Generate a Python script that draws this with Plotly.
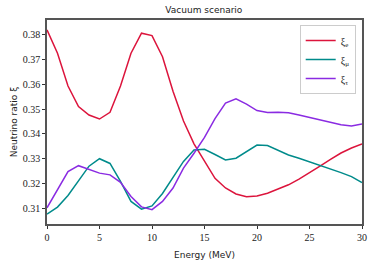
import plotly.graph_objects as go

energy = list(range(0, 31))
xi_e = [0.3819, 0.3725, 0.3593, 0.3510, 0.3476, 0.3460, 0.3487, 0.3593, 0.3725, 0.3806,
        0.3796, 0.3711, 0.3572, 0.3452, 0.3360, 0.3288, 0.3221, 0.3182, 0.3158, 0.3147,
        0.3150, 0.3161, 0.3178, 0.3195, 0.3218, 0.3243, 0.3270, 0.3297, 0.3323, 0.3343, 0.3360]
xi_mu = [0.3077, 0.3105, 0.3152, 0.3212, 0.3270, 0.3300, 0.3281, 0.3209, 0.3128, 0.3097,
         0.3110, 0.3160, 0.3222, 0.3289, 0.3335, 0.3338, 0.3317, 0.3295, 0.3302, 0.3329,
         0.3355, 0.3353, 0.3334, 0.3315, 0.3302, 0.3288, 0.3272, 0.3258, 0.3244, 0.3228, 0.3204]
xi_tau = [0.3102, 0.3176, 0.3248, 0.3272, 0.3258, 0.3242, 0.3235, 0.3205, 0.3148, 0.3106,
          0.3095, 0.3128, 0.3182, 0.3262, 0.3322, 0.3386, 0.3462, 0.3524, 0.3541, 0.3520,
          0.3494, 0.3486, 0.3487, 0.3485, 0.3476, 0.3467, 0.3456, 0.3446, 0.3437, 0.3432, 0.3440]
names = ["ξ<sub>e</sub>", "ξ<sub>μ</sub>", "ξ<sub>τ</sub>"]
colors = ["#DC143C", "#008B8B", "#8A2BE2"]
x_ticks = [0, 5, 10, 15, 20, 25, 30]
y_ticks = [0.31, 0.32, 0.33, 0.34, 0.35, 0.36, 0.37, 0.38]

fig = go.Figure()
for ys, nm, c in zip([xi_e, xi_mu, xi_tau], names, colors):
    fig.add_trace(go.Scatter(x=energy, y=ys, mode="lines", name=nm,
                             line=dict(color=c, width=1.5)))

serif = "Liberation Serif, DejaVu Serif, serif"
sans = "DejaVu Sans, sans-serif"
fig.update_layout(
    width=374, height=264,
    margin=dict(l=47, r=12, t=20, b=40, autoexpand=False),
    paper_bgcolor="white", plot_bgcolor="white",
    title=dict(text="Vacuum scenario", x=0.545, xanchor="center", y=0.975, yanchor="top",
               font=dict(family=sans, size=9, color="#222")),
    legend=dict(x=0.98, y=0.975, xanchor="right", yanchor="top",
                bordercolor="#cccccc", borderwidth=1, bgcolor="rgba(255,255,255,0.9)",
                font=dict(family=serif, size=10, color="#222"),
                itemwidth=30, tracegroupgap=0),
    showlegend=True,
)
fig.update_xaxes(range=[0, 30], tickvals=x_ticks, ticktext=[str(v) for v in x_ticks],
                 showgrid=False, zeroline=False, automargin=False,
                 showline=True, mirror=True, linecolor="#555", linewidth=1.5,
                 ticks="outside", ticklen=3, tickcolor="#333", tickwidth=1,
                 tickfont=dict(family=serif, size=10, color="#222"),
                 title=dict(text="Energy (MeV)", font=dict(family=sans, size=9, color="#222"), standoff=10))
fig.update_yaxes(range=[0.3037, 0.3859], tickvals=y_ticks, ticktext=["%.2f" % v for v in y_ticks],
                 showgrid=False, zeroline=False, automargin=False,
                 showline=True, mirror=True, linecolor="#555", linewidth=1.5,
                 ticks="outside", ticklen=3, tickcolor="#333", tickwidth=1,
                 tickfont=dict(family=serif, size=10, color="#222"),
                 title=dict(text="Neutrino ratio ξ", font=dict(family=sans, size=9, color="#222"), standoff=4))

fig.write_html("out.html", config={"displayModeBar": False},
               post_script="document.body.style.margin='0';")
